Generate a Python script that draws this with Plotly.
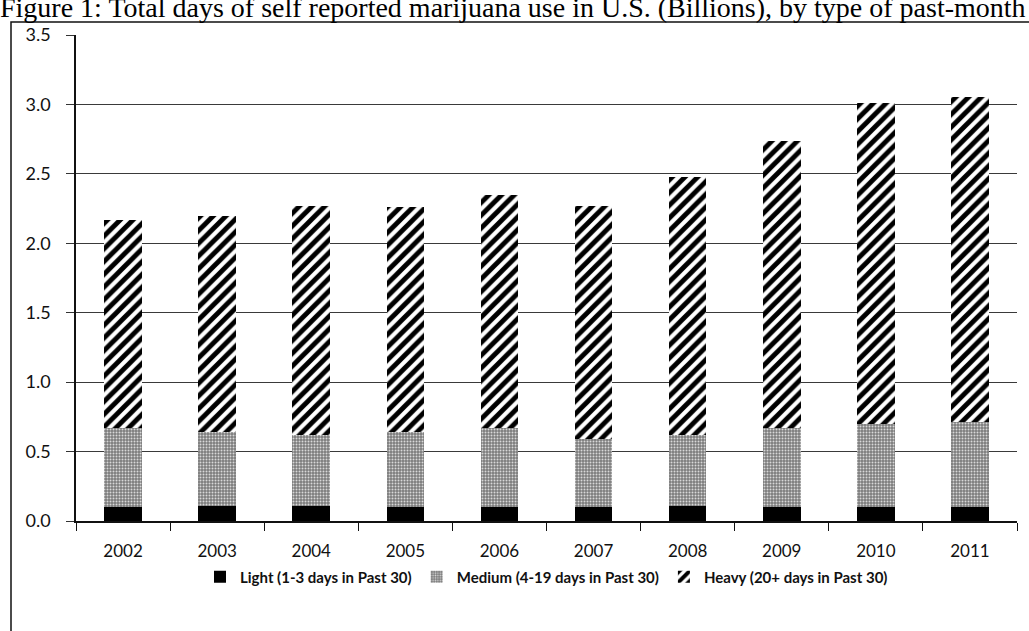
import plotly.graph_objects as go

years = ["2002", "2003", "2004", "2005", "2006", "2007", "2008", "2009", "2010", "2011"]
light = [0.10, 0.11, 0.11, 0.10, 0.10, 0.10, 0.11, 0.10, 0.10, 0.10]
medium = [0.57, 0.53, 0.51, 0.54, 0.57, 0.49, 0.51, 0.57, 0.60, 0.61]
heavy = [1.50, 1.56, 1.65, 1.62, 1.68, 1.68, 1.86, 2.07, 2.31, 2.34]

names = ["Light (1-3 days in Past 30)", "Medium (4-19 days in Past 30)", "Heavy (20+ days in Past 30)"]
title_text = "Figure 1: Total days of self reported marijuana use in U.S. (Billions), by type of past-month"
y_ticks = [0, 0.5, 1.0, 1.5, 2.0, 2.5, 3.0, 3.5]

W, H = 1029, 631
L, R, T, B = 76, 12, 35, 110
pw, ph = W - L - R, H - T - B

def px_x(p):
    return (p - L) / pw

def px_y(p):
    return (H - B - p) / ph

fig = go.Figure()
fig.add_trace(go.Bar(x=years, y=light, name=names[0],
                     marker=dict(color="#000000", line=dict(width=0))))
fig.add_trace(go.Bar(x=years, y=medium, name=names[1],
                     marker=dict(color="#8e8e8e", line=dict(width=0),
                                 pattern=dict(shape=".", fgcolor="#d8d8d8", bgcolor="#7c7c7c",
                                              size=3, solidity=0.35, fillmode="replace"))))
fig.add_trace(go.Bar(x=years, y=heavy, name=names[2],
                     marker=dict(color="#000000", line=dict(width=0),
                                 pattern=dict(shape="/", fgcolor="#000000", bgcolor="#ffffff",
                                              size=9, solidity=0.55, fillmode="replace"))))

fig.update_layout(
    width=W, height=H,
    barmode="stack", bargap=0.6,
    margin=dict(l=L, r=R, t=T, b=B, pad=0),
    paper_bgcolor="white", plot_bgcolor="white",
    font=dict(family="Lato", size=17, color="#111111"),
    showlegend=True,
    legend=dict(orientation="h", x=0.5, xanchor="center", y=px_y(577), yanchor="middle",
                font=dict(family="Lato", size=15, color="#111111", weight="bold"),
                itemwidth=30, traceorder="normal", bgcolor="rgba(0,0,0,0)"),
    xaxis=dict(type="category", showline=True, linecolor="#111111", linewidth=1.5,
               ticks="outside", tickson="boundaries", ticklen=8, tickcolor="#111111",
               ticklabelstandoff=14,
               showgrid=False, tickfont=dict(family="Lato", size=17, color="#111111")),
    yaxis=dict(range=[0, 3.5], tickvals=y_ticks, tickformat=".1f", showline=True,
               linecolor="#111111", linewidth=1.5, ticks="outside", ticklen=8,
               tickcolor="#333333", showgrid=True, gridcolor="#3a3a3a", gridwidth=1,
               ticklabelstandoff=12,
               zeroline=False, tickfont=dict(family="Lato", size=18, color="#111111")),
    shapes=[dict(type="rect", xref="paper", yref="paper",
                 x0=px_x(11), x1=px_x(1040), y0=px_y(660), y1=px_y(22),
                 line=dict(color="#111111", width=1.5), fillcolor="rgba(0,0,0,0)", layer="below")],
    annotations=[dict(text=title_text, xref="paper", yref="paper", x=px_x(-2), y=px_y(8),
                      xanchor="left", yanchor="middle", showarrow=False,
                      font=dict(family="Liberation Serif", size=28, color="#000000"))],
)

fig.write_html("out.html", config={"displayModeBar": False},
               post_script="document.body.style.margin='0';document.body.style.overflow='hidden';")
